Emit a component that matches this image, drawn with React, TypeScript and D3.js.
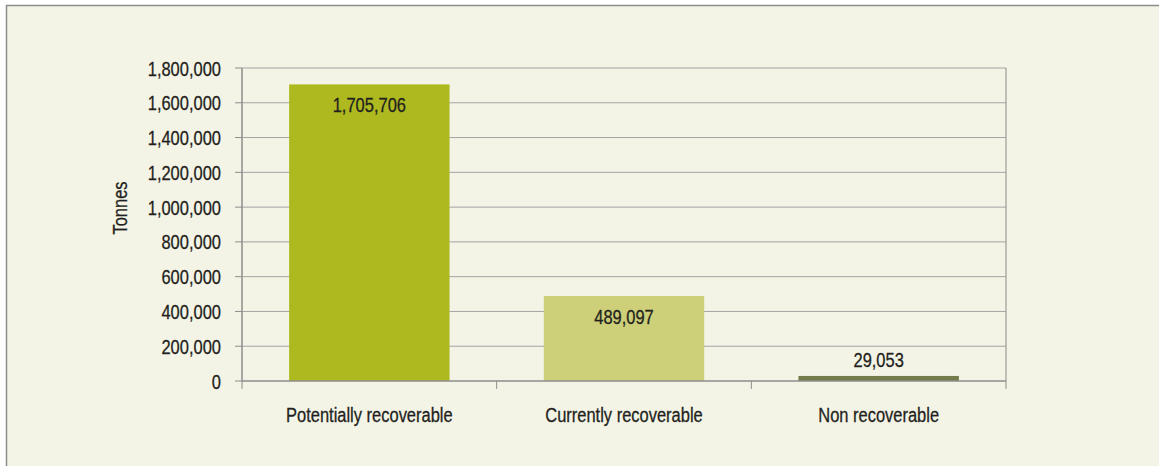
import React from "react";
import * as d3 from "d3";

const categories = ["Potentially recoverable", "Currently recoverable", "Non recoverable"];
const values = [1705706, 489097, 29053];
const barColors = ["#adb91e", "#cdd078", "#737b4b"];
const yTicks = [0, 200000, 400000, 600000, 800000, 1000000, 1200000, 1400000, 1600000, 1800000];
const yTitle = "Tonnes";

const W = 1159;
const H = 466;
const FONT = "'Liberation Sans', Arial, sans-serif";
const SX = 0.785;
const textColor = "#231f20";

function T(props: { x: number; y: number; anchor?: string; rotate?: number; dy?: string; children: React.ReactNode }) {
  const { x, y, anchor = "middle", rotate = 0, dy, children } = props;
  return (
    <text
      transform={`translate(${x},${y})${rotate ? ` rotate(${rotate})` : ""} scale(${SX},1)`}
      textAnchor={anchor}
      dy={dy}
      fontSize={21}
      fill={textColor}
      stroke={textColor}
      strokeWidth={0.3}
    >
      {children}
    </text>
  );
}

export default function App() {
  const left = 242, right = 1006, top = 68, bottom = 381;
  const x = d3.scaleBand<string>().domain(categories).range([left, right]).paddingInner(0.37).paddingOuter(0.185);
  const y = d3.scaleLinear().domain([0, 1800000]).range([bottom, top]);
  const fmt = d3.format(",");
  const bandStep = (right - left) / categories.length;
  const xTickPos = d3.range(categories.length + 1).map((i) => left + i * bandStep);

  return (
    <div style={{ position: "absolute", left: 0, top: 0 }}>
      <svg width={W} height={H} style={{ display: "block", fontFamily: FONT }}>
        <rect x={0} y={0} width={W} height={H} fill="#ffffff" />
        <rect x={6} y={5} width={W - 6} height={H - 5} fill="#f4f4e6" />
        <line x1={6} x2={W} y1={5.5} y2={5.5} stroke="#8c8c8c" strokeWidth={1.5} />
        <line x1={6.5} x2={6.5} y1={5} y2={H} stroke="#8c8c8c" strokeWidth={1.5} />

        {yTicks.map((t) => (
          <g key={t}>
            {t !== 0 && (
              <line x1={left} x2={right} y1={y(t)} y2={y(t)} stroke="#a3a3a3" strokeWidth={1} />
            )}
            <line x1={left - 7} x2={left} y1={y(t)} y2={y(t)} stroke="#8c8c8c" strokeWidth={1} />
            <T x={221} y={y(t)} dy="0.36em" anchor="end">
              {fmt(t)}
            </T>
          </g>
        ))}

        {categories.map((c, i) => {
          const v = values[i];
          const by = y(v);
          const h = bottom - by;
          const inside = h > 30;
          const cx = (x(c) as number) + x.bandwidth() / 2;
          return (
            <g key={c}>
              <rect x={x(c)} y={by} width={x.bandwidth()} height={h} fill={barColors[i]} />
              <T x={cx} y={inside ? by + 28 : by - 9}>
                {fmt(v)}
              </T>
              <T x={cx} y={422}>
                {c}
              </T>
            </g>
          );
        })}

        <line x1={left} x2={left} y1={top} y2={bottom} stroke="#8c8c8c" strokeWidth={1.5} />
        <line x1={right} x2={right} y1={top} y2={bottom} stroke="#8c8c8c" strokeWidth={1} />
        <line x1={left} x2={right} y1={bottom} y2={bottom} stroke="#8c8c8c" strokeWidth={1.5} />
        {xTickPos.map((p, i) => (
          <line key={i} x1={p} x2={p} y1={bottom} y2={bottom + 8} stroke="#8c8c8c" strokeWidth={1} />
        ))}

        <T x={127} y={208} rotate={-90}>
          {yTitle}
        </T>
      </svg>
    </div>
  );
}
